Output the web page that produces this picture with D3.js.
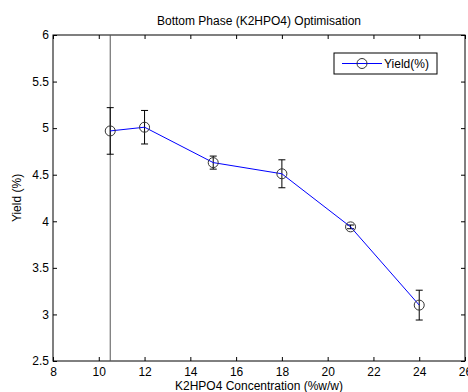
<!DOCTYPE html>
<html>
<head>
<meta charset="utf-8">
<script src="https://cdn.jsdelivr.net/npm/d3@7"></script>
<style>
  body { margin: 0; background: #fff; }
  svg { display: block; font-family: "Liberation Sans", Arial, sans-serif; }
</style>
</head>
<body>
<script>
// data
const concentration = [10.5, 12, 15, 18, 21, 24];
const yieldPct = [4.97, 5.01, 4.63, 4.51, 3.94, 3.10];
const yieldErr = [0.25, 0.18, 0.07, 0.15, 0.02, 0.16];
const xTicks = [8, 10, 12, 14, 16, 18, 20, 22, 24, 26];
const yTicks = [2.5, 3, 3.5, 4, 4.5, 5, 5.5, 6];
const markerLineX = [10.5];

const W = 468, H = 392;
const margin = { top: 35, right: 3, bottom: 31, left: 53 };
const width = W - margin.left - margin.right;
const height = H - margin.top - margin.bottom;
const fs = 12;

const data = concentration.map((c, i) => ({ x: c, y: yieldPct[i], e: yieldErr[i] }));

const svg = d3.select("body").append("svg").attr("width", W).attr("height", H);

const x = d3.scaleLinear().domain([8, 26]).range([0, width]);
const y = d3.scaleLinear().domain([2.5, 6]).range([height, 0]);

const g = svg.append("g")
  .attr("transform", "translate(" + margin.left + "," + margin.top + ")");

// axes (MATLAB style: ticks inward on all four sides)
const tickLen = 4;
g.append("g")
  .attr("transform", "translate(0," + height + ")")
  .call(d3.axisBottom(x).tickValues(xTicks).tickSizeInner(-tickLen).tickSizeOuter(0).tickPadding(6).tickFormat(d3.format("d")));
g.append("g")
  .call(d3.axisTop(x).tickValues(xTicks).tickSizeInner(-tickLen).tickSizeOuter(0).tickFormat(""));
g.append("g")
  .call(d3.axisLeft(y).tickValues(yTicks).tickSizeInner(-tickLen).tickSizeOuter(0).tickPadding(4).tickFormat(d3.format("")));
g.append("g")
  .attr("transform", "translate(" + width + ",0)")
  .call(d3.axisRight(y).tickValues(yTicks).tickSizeInner(-tickLen).tickSizeOuter(0).tickFormat(""));

g.selectAll(".domain").remove();
g.selectAll(".tick line").attr("stroke", "#000").attr("stroke-width", 1);
g.selectAll(".tick text").attr("font-size", fs).attr("fill", "#000")
  .attr("font-family", "Liberation Sans, Arial, sans-serif");

// plot box
g.append("rect")
  .attr("width", width).attr("height", height)
  .attr("fill", "none").attr("stroke", "#000").attr("stroke-width", 1);

// vertical reference line
g.selectAll(".vline")
  .data(markerLineX)
  .enter()
  .append("line")
  .attr("x1", (d) => x(d)).attr("x2", (d) => x(d))
  .attr("y1", y(6)).attr("y2", y(2.5))
  .attr("stroke", "#555").attr("stroke-width", 1);

// error bars
const cap = 3.5;
const eb = g.selectAll(".err").data(data).enter().append("g");
eb.append("line")
  .attr("x1", (d) => x(d.x)).attr("x2", (d) => x(d.x))
  .attr("y1", (d) => y(d.y - d.e)).attr("y2", (d) => y(d.y + d.e))
  .attr("stroke", "#000");
eb.append("line")
  .attr("x1", (d) => x(d.x) - cap).attr("x2", (d) => x(d.x) + cap)
  .attr("y1", (d) => y(d.y - d.e)).attr("y2", (d) => y(d.y - d.e))
  .attr("stroke", "#000");
eb.append("line")
  .attr("x1", (d) => x(d.x) - cap).attr("x2", (d) => x(d.x) + cap)
  .attr("y1", (d) => y(d.y + d.e)).attr("y2", (d) => y(d.y + d.e))
  .attr("stroke", "#000");

// line
g.append("path")
  .datum(data)
  .attr("fill", "none")
  .attr("stroke", "#0000ff")
  .attr("stroke-width", 1)
  .attr("d", d3.line().x((d) => x(d.x)).y((d) => y(d.y)));

// markers
g.selectAll(".pt").data(data).enter().append("circle")
  .attr("cx", (d) => x(d.x)).attr("cy", (d) => y(d.y))
  .attr("r", 5)
  .attr("fill", "none").attr("stroke", "#333").attr("stroke-width", 1);

// legend
const leg = svg.append("g").attr("transform", "translate(334,53)");
leg.append("rect").attr("width", 103).attr("height", 21)
  .attr("fill", "#fff").attr("stroke", "#000");
leg.append("line").attr("x1", 8).attr("x2", 48).attr("y1", 10.5).attr("y2", 10.5)
  .attr("stroke", "#0000ff");
leg.append("circle").attr("cx", 28).attr("cy", 10.5).attr("r", 5)
  .attr("fill", "none").attr("stroke", "#333");
leg.append("text").attr("x", 50).attr("y", 15)
  .attr("font-size", fs).text("Yield(%)");

// title and axis labels
svg.append("text")
  .attr("x", margin.left + width / 2).attr("y", 25)
  .attr("text-anchor", "middle").attr("font-size", fs)
  .text("Bottom Phase (K2HPO4) Optimisation");

svg.append("text")
  .attr("x", margin.left + width / 2).attr("y", 390)
  .attr("text-anchor", "middle").attr("font-size", fs)
  .text("K2HPO4 Concentration (%w/w)");

svg.append("text")
  .attr("transform", "rotate(-90)")
  .attr("x", -(margin.top + height / 2)).attr("y", 21)
  .attr("text-anchor", "middle").attr("font-size", fs)
  .text("Yield (%)");
</script>
</body>
</html>
